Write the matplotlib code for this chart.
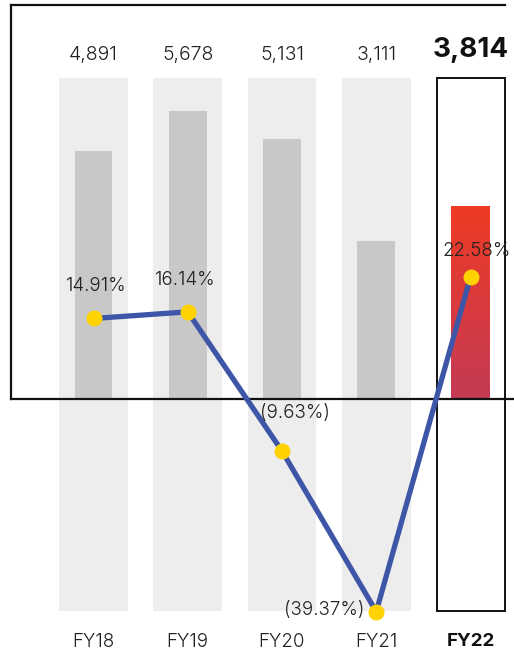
import numpy as np
import matplotlib
matplotlib.use('Agg')
import matplotlib.pyplot as plt
from matplotlib.lines import Line2D

plt.rcParams['font.family'] = ['Inter', 'DejaVu Sans']

years = ['FY18', 'FY19', 'FY20', 'FY21', 'FY22']
revenue = [4891, 5678, 5131, 3111, 3814]
revenue_labels = ['4,891', '5,678', '5,131', '3,111', '3,814']
growth = [14.91, 16.14, -9.63, -39.37, 22.58]
growth_labels = ['14.91%', '16.14%', '(9.63%)', '(39.37%)', '22.58%']

W, H = 514, 657
fig = plt.figure(figsize=(W / 100, H / 100), dpi=100)
ax = fig.add_axes([0, 0, 1, 1])

# pixel layout: category spacing and zero line
step = 94.25
x_first = 93.5
x0 = -x_first / step
zero_px = 399
unit = 1 / 0.0507          # revenue units per pixel
ax.axis('off')

x = np.arange(len(years))
col_top = (zero_px - 78) * unit
col_bot = -(611 - zero_px) * unit

# light background columns
ax.bar(x[:-1], col_top - col_bot, bottom=col_bot, width=0.732,
       color='#ecedec', zorder=1)
# highlighted last year box
ax.bar(x[-1] + 0.005, col_top - col_bot, bottom=col_bot, width=0.72,
       facecolor='white', edgecolor='#111111', linewidth=1.4, zorder=1)

# revenue bars
ax.bar(x[:-1], revenue[:-1], width=0.40, color='#c8c8c9', zorder=2)
red = ax.bar(x[-1], revenue[-1], width=0.41, color='none', zorder=2)[0]
grad = np.linspace(0, 1, 256).reshape(-1, 1)
cmap = matplotlib.colors.LinearSegmentedColormap.from_list('rg', ['#c43a55', '#ef3b24'])
bx, by = red.get_x(), red.get_y()
img = ax.imshow(grad, cmap=cmap, origin='lower', aspect='auto',
                extent=[bx, bx + red.get_width(), by, by + red.get_height()], zorder=2)
img.set_clip_path(red)
ax.set_xlim(x0, x0 + W / step)
ax.set_ylim(-(H - zero_px) * unit, zero_px * unit)

# frame: zero line, left edge, top edge
ax.axhline(0, xmin=11 / W, xmax=1, color='#111111', lw=1.6, zorder=3)
fig.add_artist(Line2D([11 / W, 11 / W], [1 - 5 / H, 1 - zero_px / H],
                      color='#111111', lw=1.6))
fig.add_artist(Line2D([11 / W, 505 / W], [1 - 5 / H, 1 - 5 / H],
                      color='#111111', lw=1.6))

# revenue value labels
for i, lab in enumerate(revenue_labels):
    last = i == len(years) - 1
    ax.text(x[i] + (0.0 if last else 0), 1 - (50 if last else 55) / H, lab,
            transform=ax.get_xaxis_transform(), ha='center', va='center',
            fontsize=20 if last else 14, fontweight='bold' if last else 300,
            color='#111111' if last else '#222222')

# year labels
for i, yr in enumerate(years):
    last = i == len(years) - 1
    ax.text(x[i], 1 - 642 / H, yr, transform=ax.get_xaxis_transform(),
            ha='center', va='center', fontsize=13.5,
            fontweight='bold' if last else 300,
            color='#111111' if last else '#222222')

# growth line on its own scale
ax2 = ax.twinx()
ax2.set_position([0, 0, 1, 1])
pct_px = 5.4
ax2.set_ylim(-(H - zero_px) / pct_px, zero_px / pct_px)
ax2.axis('off')
ax2.plot(x, growth, color='#3e56a7', lw=3.8, zorder=5,
         marker='o', markersize=10.5, markerfacecolor='#ffd200',
         markeredgecolor='#ffd200', solid_capstyle='round')

offsets = [(3, 32, 'center'), (-2, 32, 'center'), (13, 38, 'center'),
           (-12, 2, 'right'), (6, 26, 'center')]
for i, lab in enumerate(growth_labels):
    dx, dy, ha = offsets[i]
    ax2.annotate(lab, (x[i], growth[i]), xytext=(dx, dy),
                 textcoords='offset pixels', ha=ha, va='center',
                 fontsize=13.5, fontweight=300, color='#222222', zorder=6)

fig.savefig('out.png', dpi=100)
